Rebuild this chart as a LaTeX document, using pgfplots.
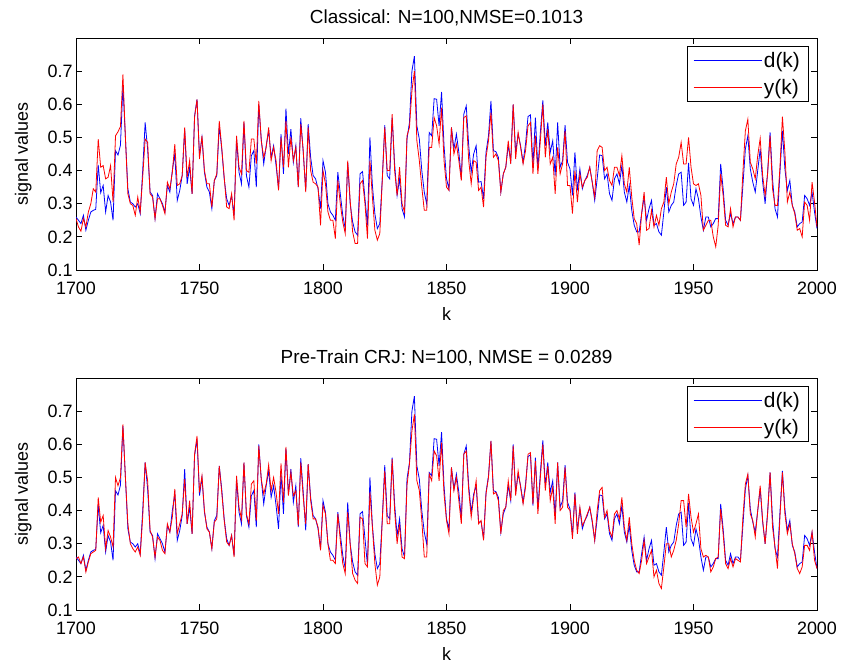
\documentclass[border=0pt]{standalone}
\usepackage{pgfplots}
\usepackage{pgfplotstable}
\pgfplotsset{compat=1.18}
\usepackage{fontspec}
\setmainfont{Liberation Sans}
\pgfplotstableread{
k d ya yb
1700 0.26 0.255 0.255
1701 0.25 0.23 0.26
1702 0.24 0.217 0.24
1703 0.265 0.255 0.26
1704 0.22 0.23 0.215
1705 0.25 0.275 0.245
1706 0.275 0.30 0.27
1707 0.28 0.345 0.275
1708 0.283 0.335 0.28
1709 0.417 0.495 0.44
1710 0.333 0.41 0.365
1711 0.355 0.415 0.385
1712 0.275 0.375 0.285
1713 0.325 0.38 0.34
1714 0.305 0.415 0.32
1715 0.25 0.305 0.29
1716 0.46 0.505 0.50
1717 0.447 0.517 0.475
1718 0.477 0.533 0.50
1719 0.655 0.69 0.66
1720 0.50 0.50 0.50
1721 0.345 0.33 0.36
1722 0.305 0.30 0.30
1723 0.30 0.295 0.285
1724 0.29 0.265 0.275
1725 0.30 0.32 0.29
1726 0.27 0.275 0.265
1727 0.40 0.38 0.38
1728 0.545 0.495 0.545
1729 0.465 0.485 0.49
1730 0.335 0.33 0.34
1731 0.325 0.32 0.32
1732 0.255 0.255 0.26
1733 0.33 0.315 0.32
1734 0.315 0.315 0.31
1735 0.30 0.295 0.28
1736 0.275 0.27 0.27
1737 0.355 0.365 0.36
1738 0.335 0.345 0.335
1739 0.40 0.395 0.38
1740 0.45 0.48 0.465
1741 0.31 0.355 0.33
1742 0.34 0.36 0.36
1743 0.385 0.385 0.39
1744 0.525 0.53 0.495
1745 0.36 0.38 0.36
1746 0.41 0.43 0.43
1747 0.33 0.33 0.33
1748 0.565 0.56 0.57
1749 0.615 0.615 0.625
1750 0.445 0.435 0.455
1751 0.50 0.505 0.505
1752 0.395 0.40 0.40
1753 0.35 0.36 0.345
1754 0.335 0.36 0.335
1755 0.285 0.29 0.285
1756 0.37 0.37 0.365
1757 0.385 0.39 0.375
1758 0.535 0.55 0.535
1759 0.465 0.47 0.455
1760 0.375 0.38 0.37
1761 0.315 0.29 0.305
1762 0.295 0.285 0.295
1763 0.325 0.33 0.325
1764 0.265 0.25 0.26
1765 0.495 0.505 0.505
1766 0.395 0.41 0.41
1767 0.36 0.39 0.375
1768 0.545 0.55 0.545
1769 0.385 0.40 0.39
1770 0.35 0.395 0.36
1771 0.445 0.495 0.48
1772 0.46 0.495 0.49
1773 0.35 0.42 0.37
1774 0.60 0.61 0.595
1775 0.495 0.49 0.495
1776 0.42 0.44 0.45
1777 0.475 0.47 0.48
1778 0.52 0.53 0.538
1779 0.44 0.43 0.46
1780 0.475 0.47 0.50
1781 0.415 0.43 0.455
1782 0.345 0.34 0.39
1783 0.51 0.50 0.542
1784 0.39 0.41 0.425
1785 0.587 0.55 0.592
1786 0.45 0.41 0.445
1787 0.525 0.50 0.515
1788 0.425 0.43 0.445
1789 0.475 0.47 0.46
1790 0.35 0.35 0.355
1791 0.558 0.54 0.545
1792 0.455 0.46 0.44
1793 0.34 0.335 0.36
1794 0.54 0.53 0.54
1795 0.44 0.40 0.43
1796 0.385 0.365 0.375
1797 0.375 0.36 0.375
1798 0.345 0.35 0.35
1799 0.285 0.235 0.28
1800 0.43 0.40 0.415
1801 0.395 0.36 0.39
1802 0.30 0.275 0.30
1803 0.275 0.25 0.25
1804 0.265 0.25 0.25
1805 0.25 0.195 0.24
1806 0.395 0.37 0.39
1807 0.33 0.30 0.31
1808 0.265 0.245 0.24
1809 0.225 0.21 0.21
1810 0.425 0.43 0.395
1811 0.30 0.31 0.30
1812 0.245 0.215 0.21
1813 0.215 0.18 0.19
1814 0.205 0.18 0.18
1815 0.39 0.36 0.38
1816 0.397 0.37 0.375
1817 0.315 0.30 0.24
1818 0.235 0.195 0.23
1819 0.50 0.43 0.455
1820 0.355 0.32 0.35
1821 0.27 0.22 0.24
1822 0.225 0.19 0.175
1823 0.24 0.21 0.20
1824 0.375 0.37 0.37
1825 0.537 0.53 0.52
1826 0.385 0.40 0.36
1827 0.375 0.40 0.36
1828 0.56 0.57 0.555
1829 0.42 0.40 0.40
1830 0.325 0.325 0.30
1831 0.375 0.41 0.36
1832 0.285 0.30 0.26
1833 0.26 0.275 0.255
1834 0.495 0.505 0.475
1835 0.545 0.53 0.54
1836 0.70 0.64 0.64
1837 0.745 0.70 0.69
1838 0.535 0.49 0.49
1839 0.495 0.43 0.46
1840 0.40 0.35 0.37
1841 0.335 0.28 0.26
1842 0.298 0.28 0.26
1843 0.515 0.47 0.51
1844 0.505 0.47 0.49
1845 0.617 0.56 0.58
1846 0.615 0.535 0.565
1847 0.535 0.48 0.49
1848 0.637 0.59 0.605
1849 0.475 0.43 0.45
1850 0.375 0.35 0.37
1851 0.345 0.34 0.33
1852 0.53 0.53 0.53
1853 0.465 0.45 0.46
1854 0.51 0.48 0.50
1855 0.455 0.43 0.43
1856 0.375 0.37 0.36
1857 0.57 0.56 0.57
1858 0.595 0.565 0.58
1859 0.475 0.43 0.46
1860 0.395 0.36 0.38
1861 0.45 0.43 0.44
1862 0.475 0.425 0.49
1863 0.365 0.34 0.36
1864 0.367 0.35 0.37
1865 0.315 0.29 0.31
1866 0.455 0.44 0.45
1867 0.505 0.49 0.50
1868 0.61 0.575 0.61
1869 0.46 0.44 0.45
1870 0.457 0.45 0.455
1871 0.44 0.43 0.43
1872 0.335 0.335 0.33
1873 0.39 0.39 0.40
1874 0.41 0.41 0.41
1875 0.475 0.49 0.49
1876 0.43 0.42 0.43
1877 0.60 0.60 0.595
1878 0.455 0.435 0.445
1879 0.51 0.515 0.52
1880 0.475 0.47 0.47
1881 0.425 0.42 0.42
1882 0.48 0.46 0.47
1883 0.563 0.535 0.57
1884 0.568 0.545 0.575
1885 0.415 0.39 0.42
1886 0.56 0.505 0.55
1887 0.405 0.39 0.39
1888 0.515 0.49 0.50
1889 0.612 0.60 0.60
1890 0.475 0.44 0.46
1891 0.545 0.525 0.535
1892 0.455 0.42 0.43
1893 0.49 0.44 0.47
1894 0.385 0.33 0.36
1895 0.545 0.47 0.545
1896 0.41 0.39 0.40
1897 0.43 0.42 0.41
1898 0.537 0.52 0.53
1899 0.425 0.355 0.41
1900 0.405 0.355 0.40
1901 0.325 0.27 0.315
1902 0.455 0.40 0.45
1903 0.34 0.305 0.33
1904 0.405 0.39 0.41
1905 0.345 0.35 0.355
1906 0.37 0.37 0.37
1907 0.385 0.38 0.39
1908 0.41 0.41 0.41
1909 0.365 0.365 0.37
1910 0.31 0.32 0.31
1911 0.375 0.46 0.40
1912 0.447 0.475 0.46
1913 0.445 0.47 0.47
1914 0.375 0.40 0.38
1915 0.39 0.41 0.40
1916 0.33 0.37 0.34
1917 0.31 0.355 0.32
1918 0.375 0.41 0.39
1919 0.39 0.41 0.40
1920 0.36 0.385 0.375
1921 0.415 0.445 0.44
1922 0.335 0.36 0.35
1923 0.305 0.335 0.31
1924 0.355 0.41 0.38
1925 0.28 0.32 0.30
1926 0.235 0.255 0.25
1927 0.215 0.24 0.22
1928 0.215 0.175 0.21
1929 0.27 0.27 0.25
1930 0.32 0.335 0.31
1931 0.25 0.22 0.24
1932 0.285 0.225 0.26
1933 0.31 0.28 0.28
1934 0.235 0.23 0.20
1935 0.24 0.265 0.22
1936 0.215 0.235 0.18
1937 0.205 0.285 0.165
1938 0.275 0.305 0.23
1939 0.35 0.38 0.30
1940 0.275 0.30 0.30
1941 0.295 0.335 0.26
1942 0.305 0.36 0.28
1943 0.355 0.42 0.31
1944 0.39 0.44 0.36
1945 0.395 0.485 0.43
1946 0.295 0.42 0.43
1947 0.305 0.42 0.35
1948 0.423 0.50 0.45
1949 0.315 0.41 0.38
1950 0.295 0.36 0.335
1951 0.345 0.355 0.36
1952 0.315 0.36 0.39
1953 0.26 0.325 0.285
1954 0.22 0.22 0.26
1955 0.26 0.235 0.265
1956 0.26 0.25 0.26
1957 0.23 0.25 0.215
1958 0.24 0.20 0.23
1959 0.255 0.17 0.255
1960 0.255 0.235 0.26
1961 0.42 0.39 0.405
1962 0.345 0.325 0.33
1963 0.25 0.235 0.24
1964 0.235 0.23 0.225
1965 0.27 0.285 0.255
1966 0.24 0.23 0.23
1967 0.26 0.26 0.255
1968 0.26 0.26 0.25
1969 0.25 0.25 0.245
1970 0.355 0.395 0.38
1971 0.465 0.52 0.48
1972 0.505 0.555 0.51
1973 0.405 0.425 0.39
1974 0.365 0.405 0.37
1975 0.335 0.375 0.32
1976 0.40 0.445 0.40
1977 0.465 0.497 0.475
1978 0.365 0.385 0.37
1979 0.30 0.325 0.30
1980 0.395 0.39 0.39
1981 0.515 0.505 0.515
1982 0.375 0.345 0.35
1983 0.285 0.295 0.29
1984 0.26 0.295 0.225
1985 0.395 0.41 0.38
1986 0.52 0.563 0.515
1987 0.405 0.455 0.39
1988 0.34 0.305 0.33
1989 0.37 0.335 0.36
1990 0.295 0.295 0.30
1991 0.275 0.27 0.27
1992 0.23 0.22 0.225
1993 0.24 0.225 0.21
1994 0.245 0.20 0.23
1995 0.325 0.305 0.295
1996 0.315 0.295 0.295
1997 0.295 0.25 0.28
1998 0.335 0.365 0.335
1999 0.275 0.305 0.25
2000 0.225 0.23 0.225
}\datatable
\pgfplotsset{
  mstyle/.style={
    scale only axis, width=741bp, height=232bp,
    xmin=1700, xmax=2000, ymin=0.1, ymax=0.80,
    xtick={1700,1750,...,2000}, ytick={0.1,0.2,...,0.7},
    yticklabel style={/pgf/number format/fixed, /pgf/number format/fixed zerofill, /pgf/number format/precision=1},
    xticklabel style={/pgf/number format/set thousands separator={}, yshift=-8bp},
    tick align=inside, tick pos=both, major tick length=6bp,
    /pgf/number format/assume math mode=true,
    tick label style={font=\fontsize{18}{21}\selectfont},
    label style={font=\fontsize{18}{21}\selectfont},
    title style={font=\fontsize{19}{22}\selectfont, yshift=3bp},
    axis line style={line width=0.9pt}, every tick/.style={black, line width=0.8pt},
    xlabel={k}, ylabel={signal values},
    xlabel style={yshift=-6bp}, ylabel style={yshift=9bp},
    legend style={at={(0.988,0.965)}, anchor=north east, font=\fontsize{21}{24}\selectfont,
      inner xsep=6bp, inner ysep=4bp, row sep=6bp},
    legend cell align=left,
    legend image code/.code={\path (0bp,0bp) -- (8bp,0bp); \draw[line width=0.8pt, #1] (8bp,0bp) -- (68bp,0bp);},
  }
}
\begin{document}
\begin{tikzpicture}
\useasboundingbox (0,0) rectangle (843bp,666bp);
\begin{axis}[mstyle, at={(76bp,396bp)}, anchor=south west, title={Classical: N=100,NMSE=0.1013}]
\addplot[blue, line width=0.8pt] table[x=k, y=d] {\datatable};
\addplot[red, line width=0.8pt] table[x=k, y=ya] {\datatable};
\legend{d(k), y(k)}
\end{axis}
\begin{axis}[mstyle, at={(76bp,56bp)}, anchor=south west, title={Pre-Train CRJ: N=100, NMSE = 0.0289}]
\addplot[blue, line width=0.8pt] table[x=k, y=d] {\datatable};
\addplot[red, line width=0.8pt] table[x=k, y=yb] {\datatable};
\legend{d(k), y(k)}
\end{axis}
\end{tikzpicture}
\end{document}
